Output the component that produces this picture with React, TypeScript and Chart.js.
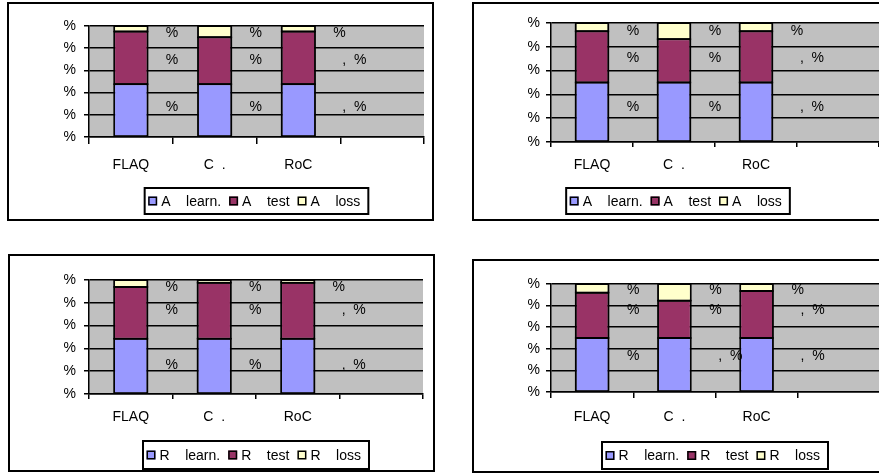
import React, { useEffect, useRef } from 'react';
import { Chart, registerables } from 'chart.js';

Chart.register(...registerables);

// ---------- data ----------
const categories = ['FLAQ', 'C  .', 'RoC', ''];
const yTickLabels = ['%', '%', '%', '%', '%', '%'];

// top-left panel
const p1SeriesNames = ['A    learn.', 'A    test', 'A    loss'];
const p1Learn = [47.6, 47.6, 47.6];
const p1Test = [47.4, 42.2, 47.4];
const p1Loss = [5.0, 10.2, 5.0];
const p1LearnLabels = ['%', '%', ',  %'];
const p1TestLabels = ['%', '%', ',  %'];
const p1LossLabels = ['%', '%', '%'];

// top-right panel
const p2SeriesNames = ['A    learn.', 'A    test', 'A    loss'];
const p2Learn = [50, 50, 50];
const p2Test = [43, 36.4, 43];
const p2Loss = [7, 13.6, 7];
const p2LearnLabels = ['%', '%', ',  %'];
const p2TestLabels = ['%', '%', ',  %'];
const p2LossLabels = ['%', '%', '%'];

// bottom-left panel
const p3SeriesNames = ['R    learn.', 'R    test', 'R    loss'];
const p3Learn = [48.5, 48.5, 48.5];
const p3Test = [45.4, 49.1, 49.1];
const p3Loss = [6.1, 2.4, 2.4];
const p3LearnLabels = ['%', '%', ',  %'];
const p3TestLabels = ['%', '%', ',  %'];
const p3LossLabels = ['%', '%', '%'];

// bottom-right panel
const p4SeriesNames = ['R    learn.', 'R    test', 'R    loss'];
const p4Learn = [50, 50, 50];
const p4Test = [42, 34.6, 43.5];
const p4Loss = [8, 15.4, 6.5];
const p4LearnLabels = ['%', ',  %', ',  %'];
const p4TestLabels = ['%', '%', ',  %'];
const p4LossLabels = ['%', '%', '%'];

// ---------- styles / layout ----------
const FONT = 'Arial, "Liberation Sans", sans-serif';
const SERIES_COLORS = ['#9999FF', '#993366', '#FFFFCC'];
const LINE_W = 1.5;

type PanelCfg = {
  names: string[];
  values: number[][];
  valueLabels: string[][];
  labelLevels: number[];
  box: { x: number; y: number; w: number; h: number };
  area: { l: number; t: number; r: number; b: number };
  xLabelY: number;
  xTick: number;
  yPad: number;
  legend: { cx: number; top: number; h: number };
};

const PANELS: PanelCfg[] = [
  {
    names: p1SeriesNames,
    values: [p1Learn, p1Test, p1Loss],
    valueLabels: [p1LearnLabels, p1TestLabels, p1LossLabels],
    labelLevels: [27.2, 69, 93.7],
    box: { x: 7, y: 2, w: 427, h: 219 },
    area: { l: 89, t: 26, r: 424, b: 137 },
    xLabelY: 165,
    xTick: 7,
    yPad: 8,
    legend: { cx: 256.5, top: 188, h: 26 },
  },
  {
    names: p2SeriesNames,
    values: [p2Learn, p2Test, p2Loss],
    valueLabels: [p2LearnLabels, p2TestLabels, p2LossLabels],
    labelLevels: [29.5, 70.2, 92.8],
    box: { x: 472, y: 2, w: 415, h: 219 },
    area: { l: 551, t: 23, r: 879, b: 142 },
    xLabelY: 165,
    xTick: 5,
    yPad: 6,
    legend: { cx: 678, top: 188, h: 26 },
  },
  {
    names: p3SeriesNames,
    values: [p3Learn, p3Test, p3Loss],
    valueLabels: [p3LearnLabels, p3TestLabels, p3LossLabels],
    labelLevels: [25.2, 73.2, 94.1],
    box: { x: 8, y: 254, w: 427, h: 218 },
    area: { l: 89, t: 280, r: 423, b: 394 },
    xLabelY: 417,
    xTick: 5,
    yPad: 8,
    legend: { cx: 256, top: 441, h: 28 },
  },
  {
    names: p4SeriesNames,
    values: [p4Learn, p4Test, p4Loss],
    valueLabels: [p4LearnLabels, p4TestLabels, p4LossLabels],
    labelLevels: [33.2, 75.5, 94],
    box: { x: 472, y: 259, w: 415, h: 214 },
    area: { l: 551, t: 284, r: 880, b: 392 },
    xLabelY: 417,
    xTick: 6,
    yPad: 6,
    legend: { cx: 715, top: 442, h: 27 },
  },
];

function Panel({ cfg }: { cfg: PanelCfg }) {
  const ref = useRef<HTMLCanvasElement | null>(null);
  const cl = cfg.box.x + 2;
  const ct = cfg.box.y + 2;
  const cw = cfg.box.w - 4;
  const ch = cfg.box.h - 4;

  useEffect(() => {
    const canvas = ref.current;
    if (!canvas) return;
    const a = cfg.area;
    const fontSize = 14;
    const lineH = fontSize * 1.2;

    const bgPlugin = {
      id: 'plotBg',
      beforeDraw(chart: any) {
        const { ctx, chartArea: ca } = chart;
        ctx.save();
        ctx.fillStyle = '#C0C0C0';
        ctx.fillRect(ca.left, ca.top, ca.right - ca.left, ca.bottom - ca.top);
        ctx.restore();
      },
    };

    const labelPlugin = {
      id: 'valueLabels',
      afterDatasetsDraw(chart: any) {
        const { ctx } = chart;
        const ys = chart.scales.y;
        ctx.save();
        // crisp black outline around every bar segment
        ctx.strokeStyle = '#000';
        ctx.lineWidth = 1.5;
        chart.data.datasets.forEach((_ds: any, i: number) => {
          const meta = chart.getDatasetMeta(i);
          meta.data.forEach((bar: any) => {
            const p = bar.getProps(['x', 'y', 'base', 'width'], true);
            if (p.y == null || isNaN(p.y)) return;
            const top = Math.min(p.y, p.base);
            const h = Math.abs(p.base - p.y);
            ctx.strokeRect(p.x - p.width / 2, top, p.width, h);
          });
        });
        ctx.font = `${fontSize}px ${FONT}`;
        ctx.fillStyle = '#000';
        ctx.textAlign = 'center';
        ctx.textBaseline = 'middle';
        chart.data.datasets.forEach((_ds: any, i: number) => {
          const meta = chart.getDatasetMeta(i);
          const y = ys.getPixelForValue(cfg.labelLevels[i]);
          meta.data.forEach((bar: any, j: number) => {
            const t = cfg.valueLabels[i][j];
            if (!t) return;
            const dx = t.length > 1 ? 56 : 41;
            ctx.fillText(t, bar.x + dx, y);
          });
        });
        ctx.restore();
      },
    };

    const legendPlugin = {
      id: 'boxLegend',
      afterDraw(chart: any) {
        const { ctx } = chart;
        ctx.save();
        ctx.font = `${fontSize}px ${FONT}`;
        const sw = 9;
        const gapText = 4;
        const gapItem = 8;
        const padL = 3.5;
        const padR = 8;
        const widths = cfg.names.map((n) => ctx.measureText(n).width);
        let total = padL + padR + gapItem * (cfg.names.length - 1);
        widths.forEach((w) => (total += sw + gapText + w));
        const left = cfg.legend.cx - cl - total / 2;
        const top = cfg.legend.top - ct;
        const h = cfg.legend.h;
        ctx.fillStyle = '#fff';
        ctx.fillRect(left, top, total, h);
        ctx.lineWidth = 2;
        ctx.strokeStyle = '#000';
        ctx.strokeRect(left, top, total, h);
        const cy = top + h / 2;
        let x = left + padL;
        cfg.names.forEach((n, i) => {
          ctx.fillStyle = SERIES_COLORS[i];
          ctx.fillRect(x, cy - sw / 2, sw, sw);
          ctx.lineWidth = 1.5;
          ctx.strokeStyle = '#000';
          ctx.strokeRect(x + 0.75, cy - sw / 2 + 0.75, sw - 1.5, sw - 1.5);
          ctx.fillStyle = '#000';
          ctx.textAlign = 'left';
          ctx.textBaseline = 'middle';
          ctx.fillText(n, x + sw + gapText, cy + 1);
          x += sw + gapText + widths[i] + gapItem;
        });
        ctx.restore();
      },
    };

    const chart = new Chart(canvas, {
      type: 'bar',
      data: {
        labels: categories,
        datasets: cfg.names.map((name, i) => ({
          label: name,
          data: cfg.values[i],
          backgroundColor: SERIES_COLORS[i],
          borderColor: '#000',
          borderWidth: 1,
          borderSkipped: false,
          inflateAmount: 0,
          barPercentage: 0.4,
          categoryPercentage: 1,
        })),
      },
      options: {
        animation: false,
        responsive: false,
        events: [],
        layout: {
          padding: { left: 0, top: a.t - ct, right: cl + cw - a.r, bottom: 0 },
        },
        plugins: {
          legend: { display: false },
          tooltip: { enabled: false },
          title: { display: false },
        },
        scales: {
          x: {
            stacked: true,
            grid: {
              display: true,
              drawOnChartArea: false,
              drawTicks: true,
              tickLength: cfg.xTick,
              color: '#000',
              lineWidth: LINE_W,
            },
            border: { display: true, color: '#000', width: LINE_W },
            ticks: {
              color: '#000',
              font: { family: FONT, size: fontSize },
              padding: cfg.xLabelY - a.b - cfg.xTick - lineH / 2,
              maxRotation: 0,
              autoSkip: false,
            },
            afterFit: (s: any) => {
              s.height = ct + ch - a.b;
            },
          },
          y: {
            stacked: true,
            min: 0,
            max: 100,
            grid: {
              color: '#000',
              lineWidth: LINE_W,
              drawTicks: true,
              tickLength: 5,
            },
            border: { display: true, color: '#000', width: LINE_W },
            ticks: {
              stepSize: 20,
              color: '#000',
              font: { family: FONT, size: fontSize },
              padding: cfg.yPad,
              callback: (_v: any, i: number) => yTickLabels[i],
            },
            afterFit: (s: any) => {
              s.width = a.l - cl;
            },
          },
        },
      } as any,
      plugins: [bgPlugin, labelPlugin, legendPlugin],
    });
    return () => chart.destroy();
  }, [cfg]);

  return (
    <div
      style={{
        position: 'absolute',
        left: cfg.box.x,
        top: cfg.box.y,
        width: cfg.box.w,
        height: cfg.box.h,
        border: '2px solid #000',
        boxSizing: 'border-box',
        background: '#fff',
      }}
    >
      <canvas ref={ref} width={cw} height={ch} style={{ display: 'block', width: cw, height: ch }} />
    </div>
  );
}

export default function App() {
  return (
    <div style={{ position: 'fixed', left: 0, top: 0, width: 879, height: 475, overflow: 'hidden', background: '#fff' }}>
      {PANELS.map((p, i) => (
        <Panel key={i} cfg={p} />
      ))}
    </div>
  );
}
